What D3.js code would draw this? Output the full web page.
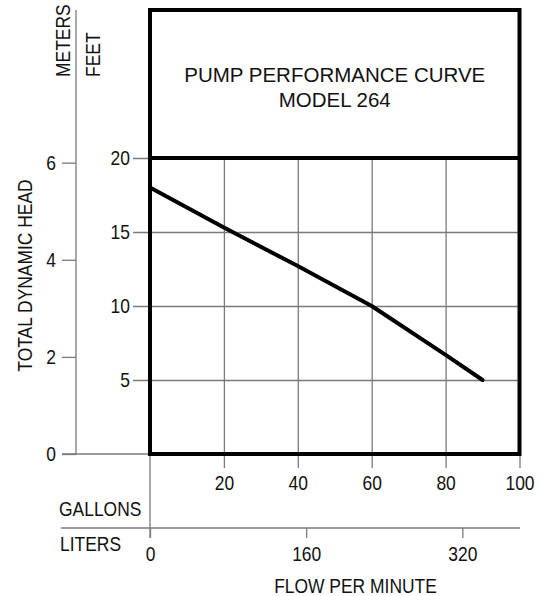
<!DOCTYPE html>
<html>
<head>
<meta charset="utf-8">
<script src="https://cdn.jsdelivr.net/npm/d3@7"></script>
<style>
  html, body { margin: 0; padding: 0; background: #fff; }
  svg { display: block; }
  text { font-family: "Liberation Sans", Arial, Helvetica, sans-serif; fill: #111; }
</style>
</head>
<body>
<svg id="chart" width="542" height="596"></svg>
<script>
// ---- data ----
const flowGallons = [0, 20, 40, 60, 80, 90];
const headFeet    = [18, 15.3, 12.7, 10, 6.7, 5];
const gallonTicks = [20, 40, 60, 80, 100];
const literTicks  = [0, 160, 320];
const feetTicks   = [5, 10, 15, 20];
const meterTicks  = [0, 2, 4, 6];
const titleLines  = ["PUMP PERFORMANCE CURVE", "MODEL 264"];

const LITERS_PER_GALLON = 3.78541;
const FEET_PER_METER = 3.28084;

const svg = d3.select("#chart");
const x  = d3.scaleLinear().domain([0, 100]).range([150, 519.5]);
const xL = d3.scaleLinear().domain([0, 100 * LITERS_PER_GALLON]).range([150, 519.5]);
const yF = d3.scaleLinear().domain([0, 20]).range([454, 158]);
const yM = d3.scaleLinear().domain([0, 20 / FEET_PER_METER]).range([454, 158]);

const GRID = "#7a7a7a";
const FS = 21, CONDENSE = 0.83;

function condense(sel) {
  sel.each(function () {
    const l = this.getComputedTextLength();
    d3.select(this).attr("textLength", l * CONDENSE).attr("lengthAdjust", "spacingAndGlyphs");
  });
}
function styleAxis(g) {
  g.select(".domain").remove();
  g.selectAll(".tick line").attr("stroke", GRID).attr("stroke-width", 1.3);
  g.selectAll(".tick text").attr("font-size", FS).attr("font-family", null).attr("fill", "#111");
  g.attr("font-family", null).attr("font-size", null);
  condense(g.selectAll(".tick text"));
}

// gallons axis with vertical grid lines
svg.append("g")
  .attr("transform", "translate(0,468)")
  .call(d3.axisBottom(x).tickValues(gallonTicks).tickSize(-(468 - yF(20))).tickPadding(7).tickFormat(d3.format("d")))
  .call(styleAxis);

// feet axis with horizontal grid lines
svg.append("g")
  .attr("transform", `translate(${x(100)},0)`)
  .call(d3.axisLeft(yF).tickValues(feetTicks).tickSize(x(100) - 133).tickPadding(3).tickFormat(d3.format("d")))
  .call(styleAxis);

// meters axis
svg.append("line").attr("x1", 76).attr("x2", 76).attr("y1", 10).attr("y2", yM(0))
  .attr("stroke", GRID).attr("stroke-width", 1.3);
svg.append("line").attr("x1", 62).attr("x2", x(0)).attr("y1", yM(0)).attr("y2", yM(0))
  .attr("stroke", GRID).attr("stroke-width", 1.3);
svg.append("g")
  .attr("transform", "translate(76,0)")
  .call(d3.axisLeft(yM).tickValues(meterTicks).tickSize(14).tickPadding(6).tickFormat(d3.format("d")))
  .call(styleAxis);

// liters axis
svg.append("line").attr("x1", 61).attr("x2", 520).attr("y1", 528).attr("y2", 528)
  .attr("stroke", GRID).attr("stroke-width", 1.3);
svg.append("line").attr("x1", x(0)).attr("x2", x(0)).attr("y1", yF(0)).attr("y2", 538)
  .attr("stroke", GRID).attr("stroke-width", 1.3);
svg.append("g")
  .attr("transform", "translate(0,528)")
  .call(d3.axisBottom(xL).tickValues(literTicks).tickSize(10).tickPadding(8).tickFormat(d3.format("d")))
  .call(styleAxis);

// frame
svg.append("rect")
  .attr("x", x(0)).attr("y", yF(30))
  .attr("width", x(100) - x(0)).attr("height", yF(0) - yF(30))
  .attr("fill", "none").attr("stroke", "#000").attr("stroke-width", 4);
svg.append("line")
  .attr("x1", x(0)).attr("x2", x(100)).attr("y1", yF(20)).attr("y2", yF(20))
  .attr("stroke", "#000").attr("stroke-width", 4);

// curve
const pts = flowGallons.map((g, i) => [g, headFeet[i]]);
svg.append("path")
  .attr("d", d3.line().x(d => x(d[0])).y(d => yF(d[1]))(pts))
  .attr("fill", "none").attr("stroke", "#000").attr("stroke-width", 4)
  .attr("stroke-linecap", "round").attr("stroke-linejoin", "round");

// title
svg.append("text").attr("x", (x(0) + x(100)) / 2).attr("y", 82)
  .attr("text-anchor", "middle").attr("font-size", 20.5).text(titleLines[0]);
svg.append("text").attr("x", (x(0) + x(100)) / 2).attr("y", 107)
  .attr("text-anchor", "middle").attr("font-size", 20.5).text(titleLines[1]);

// labels
const labels = [];
labels.push(svg.append("text").attr("x", 59).attr("y", 516).attr("font-size", FS).text("GALLONS"));
labels.push(svg.append("text").attr("x", 60).attr("y", 551).attr("font-size", FS).text("LITERS"));
labels.push(svg.append("text").attr("x", 355.5).attr("y", 593).attr("text-anchor", "middle").attr("font-size", FS).text("FLOW PER MINUTE"));
labels.push(svg.append("text").attr("transform", "translate(70,77) rotate(-90)").attr("font-size", FS).text("METERS"));
labels.push(svg.append("text").attr("transform", "translate(100,77) rotate(-90)").attr("font-size", FS).text("FEET"));
labels.push(svg.append("text").attr("transform", "translate(32,275.5) rotate(-90)").attr("text-anchor", "middle").attr("font-size", FS).text("TOTAL DYNAMIC HEAD"));
labels.forEach(condense);
</script>
</body>
</html>
